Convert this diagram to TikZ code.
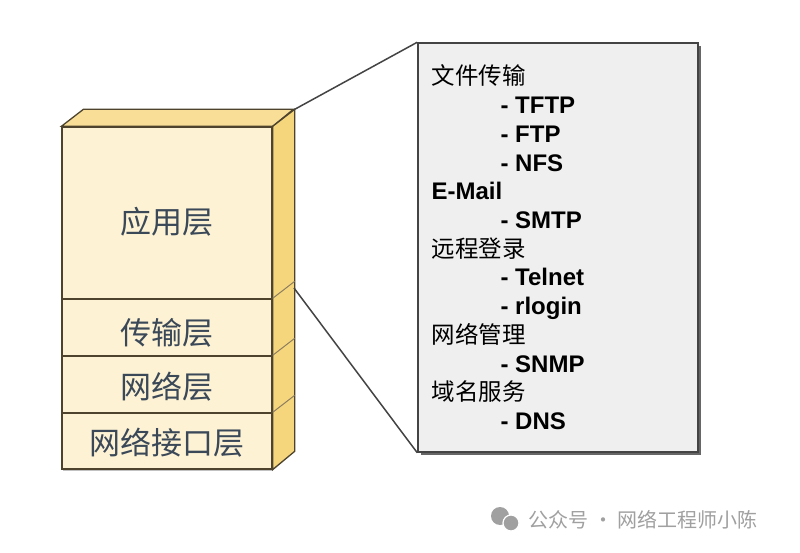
\documentclass[tikz,border=0pt]{standalone}
\usepackage{fontspec}
\setmainfont{Liberation Sans}
\newfontfamily\cjk{Noto Sans CJK SC}
\usetikzlibrary{shadows}
\definecolor{facefill}{RGB}{253,242,212}
\definecolor{topfill}{RGB}{248,222,150}
\definecolor{sidefill}{RGB}{246,214,125}
\definecolor{edge}{RGB}{78,68,45}
\definecolor{seam}{RGB}{140,125,95}
\definecolor{lbltext}{RGB}{58,72,88}
\definecolor{boxfill}{RGB}{239,239,239}
\definecolor{boxedge}{RGB}{68,68,68}
\definecolor{wmgray}{RGB}{160,160,160}
\tikzset{
  face/.style={draw=edge,line width=1.3pt,fill=facefill,minimum width=210pt,inner sep=0pt},
  layertext/.style={font=\cjk\fontsize{31}{34}\selectfont,text=lbltext},
  callout/.style={draw=boxedge,line width=1.5pt,fill=boxfill,minimum width=280pt,minimum height=409pt,
    drop shadow={shadow xshift=3pt,shadow yshift=-3pt,fill=black!75,opacity=.8}},
  zoomline/.style={draw=boxedge,line width=1.5pt},
  head/.style={anchor=base west,font=\cjk\fontsize{23.5}{27}\selectfont},
  headb/.style={anchor=base west,font=\bfseries\fontsize{24}{28}\selectfont},
  item/.style={anchor=base west,font=\bfseries\fontsize{24}{28}\selectfont},
  wm/.style={font=\cjk\fontsize{20}{24}\selectfont,text=wmgray}
}

\begin{document}
\begin{tikzpicture}[x=1pt,y=-1pt]
  \useasboundingbox[fill=white] (0,0) rectangle (800,553);
  % protocol stack, front faces
  \node[face,minimum height=172pt] (app) at (167,213) {};
  \node[face,minimum height=57pt] (trans) at (167,327.5) {};
  \node[face,minimum height=57pt] (net) at (167,384.5) {};
  \node[face,minimum height=56pt,drop shadow={shadow xshift=1pt,shadow yshift=-2pt,fill=black!40,opacity=.6}] (link) at (167,441) {};
  % top and side faces
  \draw[draw=edge,line width=1.3pt,fill=topfill] (app.north west) -- ++(22,-17) -- ++(210,0) -- (app.north east) -- cycle;
  \draw[draw=edge,line width=1.3pt,fill=sidefill] (app.north east) -- ++(22,-17) coordinate (backtop) -- ++(0,342) -- (link.south east) -- cycle;
  \draw[seam,line width=1pt] (trans.north east) -- ++(22,-17);
  \draw[seam,line width=1pt] (net.north east) -- ++(22,-17);
  \draw[seam,line width=1pt] (link.north east) -- ++(22,-17);
  \coordinate (backlow) at (294,288);
  % layer names
  \node[layertext] (appt) at (167,222) {应用层};
  \node[layertext] (transt) at (167,333) {传输层};
  \node[layertext] (nett) at (167,387) {网络层};
  \node[layertext] (linkt) at (167,443) {网络接口层};
  % callout
  \node[callout] (box) at (558,247.5) {};
  \draw[zoomline] (backtop) -- (box.north west);
  \draw[zoomline] (backlow) -- (box.south west);
  \node[head] (h1) at (428,85) {文件传输};
  \node[item] (i1) at (497,113.7) {- TFTP};
  \node[item] (i2) at (497,142.4) {- FTP};
  \node[item] (i3) at (497,171.1) {- NFS};
  \node[headb] (h2) at (428,199.8) {E-Mail};
  \node[item] (i4) at (497,228.5) {- SMTP};
  \node[head] (h3) at (428,257.2) {远程登录};
  \node[item] (i5) at (497,285.9) {- Telnet};
  \node[item] (i6) at (497,314.6) {- rlogin};
  \node[head] (h4) at (428,343.3) {网络管理};
  \node[item] (i7) at (497,372) {- SNMP};
  \node[head] (h5) at (428,400.7) {域名服务};
  \node[item] (i8) at (497,429.4) {- DNS};
  % watermark
  \fill[wmgray] (500,516) circle (9);
  \fill[wmgray,draw=white,line width=1.2pt] (511,523) circle (8);
  \node[wm,anchor=west] (wmtext) at (525,520) {公众号 · 网络工程师小陈};
\end{tikzpicture}
\end{document}
